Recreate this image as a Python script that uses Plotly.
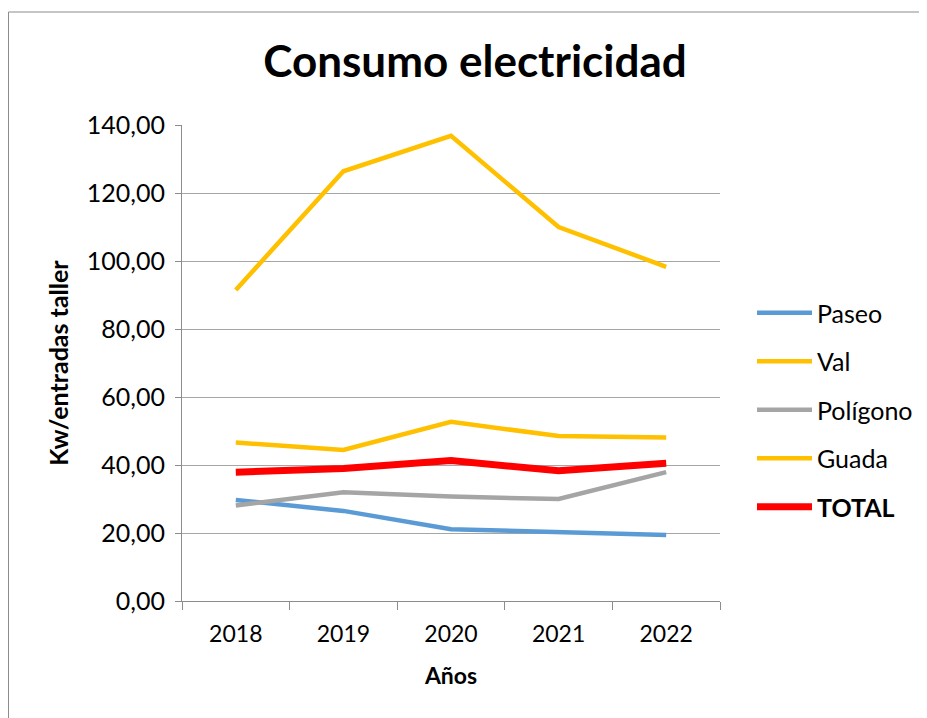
import plotly.graph_objects as go

years = ["2018", "2019", "2020", "2021", "2022"]
paseo = [29.7, 26.5, 21.1, 20.4, 19.4]
val = [91.5, 126.4, 136.8, 110.0, 98.3]
poligono = [28.1, 32.0, 30.7, 30.0, 37.9]
guada = [46.6, 44.4, 52.7, 48.5, 48.1]
total = [37.9, 39.0, 41.3, 38.3, 40.5]

series = [
    ("Paseo", paseo, "#5B9BD5", 4.5),
    ("Val", val, "#FFC000", 4.5),
    ("Polígono", poligono, "#A5A5A5", 4.5),
    ("Guada", guada, "#FFC000", 4.5),
    ("<b>TOTAL</b>", total, "#FF0000", 7),
]

fig = go.Figure()
for i, (name, vals, color, w) in enumerate(series):
    fig.add_trace(go.Scatter(
        x=years, y=vals, name=name, mode="lines",
        line=dict(color=color, width=w),
        legendgroup=f"g{i}",
    ))

OFF = 8  # page body margin
W, H = 927 - OFF, 718 - OFF
L, R, T, B = 182 - OFF, 720 - OFF, 125 - OFF, 601 - OFF
pw, ph = R - L, B - T
FONT = "Lato, Open Sans, sans-serif"

bx0 = (0.5 - L) / pw
bx1 = (W + 40 - L) / pw
by0 = (B - (H + 40)) / ph
by1 = (B - (12 - OFF)) / ph

fig.update_layout(
    width=W, height=H,
    margin=dict(l=L, r=W - R, t=T, b=H - B, autoexpand=False),
    paper_bgcolor="white", plot_bgcolor="white",
    font=dict(family=FONT, size=23, color="#000000"),
    separators=",.",
    title=dict(text="<b>Consumo electricidad</b>", x=(475 - OFF) / W, xanchor="center",
               y=1 - (62 - OFF) / H, yanchor="middle",
               font=dict(size=44, family=FONT)),
    showlegend=True,
    legend=dict(x=(752 - OFF - L) / pw, xanchor="left", y=(B - (290 - OFF)) / ph, yanchor="top",
                font=dict(size=25), tracegroupgap=13, traceorder="grouped",
                bgcolor="rgba(0,0,0,0)", itemwidth=55),
    xaxis=dict(
        type="category", range=[-0.5, 4.5],
        showline=True, linecolor="#8C8C8C", linewidth=1,
        ticks="outside", ticklen=8, tickcolor="#8C8C8C", tickson="boundaries",
        showgrid=False, ticklabelstandoff=12,
        title=dict(text="<b>Años</b>", font=dict(size=23), standoff=22),
        tickfont=dict(size=23),
    ),
    yaxis=dict(
        range=[0, 140], dtick=20, tickformat=".2f",
        showline=True, linecolor="#8C8C8C", linewidth=1,
        ticks="outside", ticklen=6, tickcolor="#8C8C8C",
        showgrid=True, gridcolor="#A6A6A6", gridwidth=1,
        zeroline=False, ticklabelstandoff=5,
        title=dict(text="<b>Kw/entradas taller</b>", font=dict(size=25), standoff=11),
        tickfont=dict(size=25),
    ),
    shapes=[
        dict(type="line", xref="paper", yref="paper", x0=bx0, x1=bx1, y0=by1, y1=by1,
             line=dict(color="#8C8C8C", width=1), layer="below"),
        dict(type="line", xref="paper", yref="paper", x0=bx0, x1=bx0, y0=by0, y1=by1,
             line=dict(color="#8C8C8C", width=1), layer="below"),
    ],
)

fig.write_html("out.html")
